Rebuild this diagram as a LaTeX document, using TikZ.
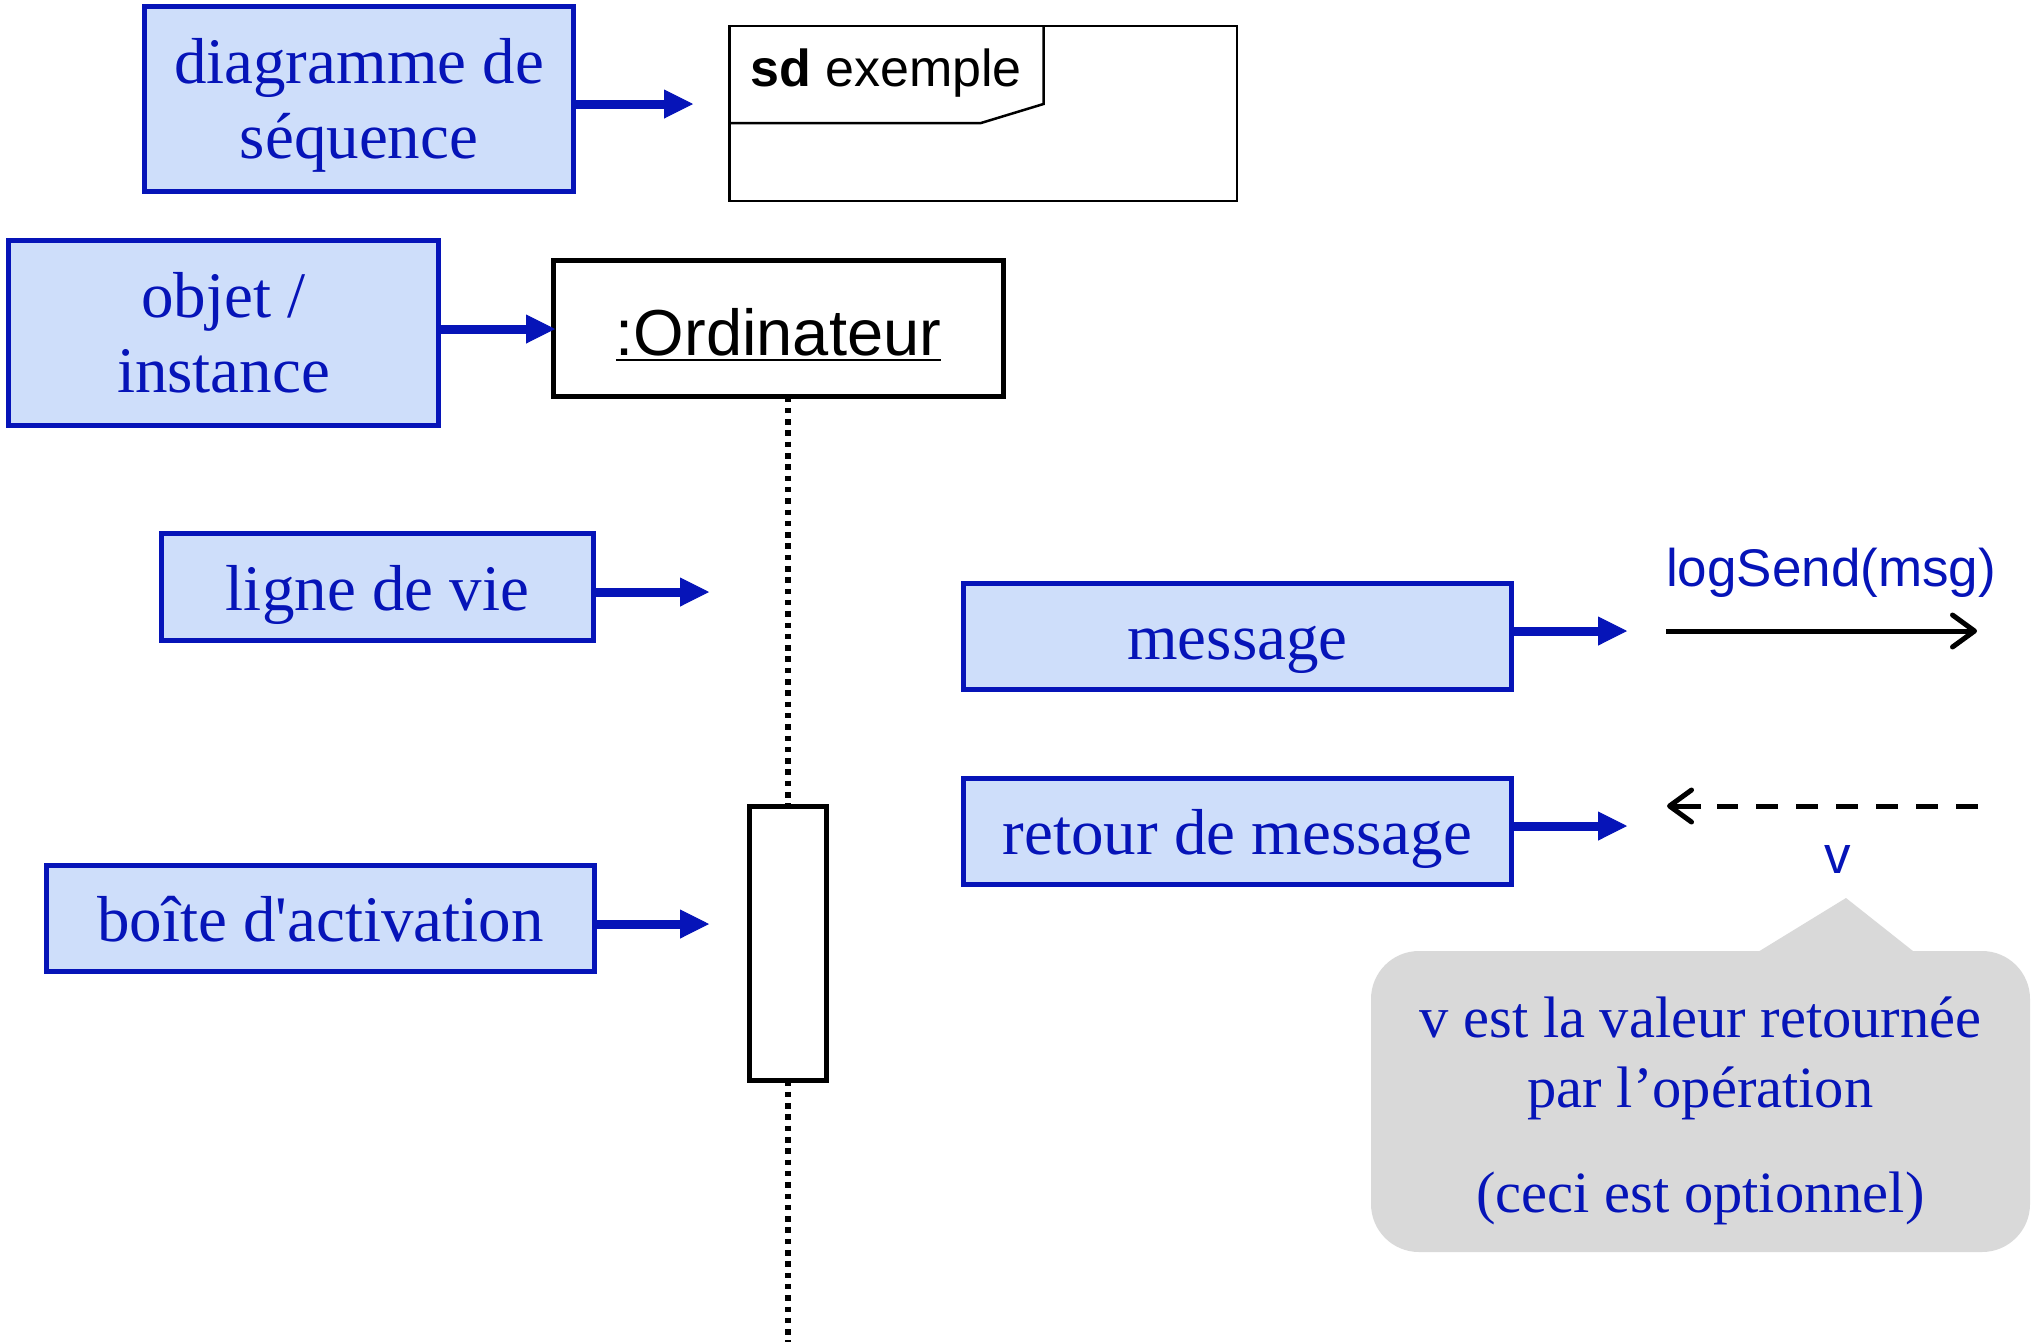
\documentclass[tikz,border=0pt]{standalone}
\usepackage{fontspec}
\newfontfamily\serfont{Liberation Serif}
\newfontfamily\arialf{Liberation Sans}
\usetikzlibrary{arrows.meta}
\definecolor{ublue}{RGB}{6,20,184}
\definecolor{ufill}{RGB}{206,222,250}
\definecolor{ugray}{RGB}{217,217,217}
\newcommand\ulx[1]{\setbox0=\hbox{#1}\rlap{\rule[-6.3pt]{\wd0}{2.6pt}}\box0}
\newcommand\twolines[2]{\raisebox{0pt}[0pt][32pt]{\begin{tabular}[t]{@{}c@{}}#1\\#2\end{tabular}}}
\newcommand\oneline[1]{\raisebox{0pt}[46pt][0pt]{#1}}
\tikzset{
  bluebox/.style={draw=ublue, fill=ufill, line width=5pt, text=ublue, inner sep=0pt, outer sep=0pt,
    font=\serfont\fontsize{65}{75}\selectfont},
  bluearrow/.style={draw=ublue, fill=ublue, line width=9pt, -{Triangle[length=29pt,width=29pt,line width=1pt]}},
  blackbox/.style={draw=black, fill=white, inner sep=0pt, outer sep=0pt},
  lifeline/.style={draw=black, line width=5.5pt, dash pattern=on 5.5pt off 5.8pt},
  msgarrow/.style={draw=black, line width=5pt, -{Straight Barb[length=22pt,width=32pt,round]}},
  bluelabel/.style={inner sep=0pt, outer sep=0pt, text=ublue, font=\arialf\fontsize{53}{60}\selectfont}
}
\begin{document}
\begin{tikzpicture}[x=1pt,y=-1pt]
\fill[white] (0,0) rectangle (2040,1342);
\useasboundingbox (0,0) rectangle (2040,1342);

% sequence diagram frame
\node[blackbox, line width=2.5pt, minimum width=507.5pt, minimum height=175pt] (frame) at (983,113.5) {};
\draw[line width=2.5pt, line join=miter] (729.25,123) -- (981,123) -- (1043.5,104) -- (1043.5,26);
\node[anchor=base west, inner sep=0pt, font=\arialf\fontsize{52}{60}\selectfont] (sdlab) at (750,86) {\textbf{sd} exemple};

% object
\node[blackbox, line width=5pt, minimum width=450pt, minimum height=136pt,
      font=\arialf\fontsize{65}{78}\selectfont] (ord) at (778.5,328.5)
      {\raisebox{0pt}[53pt][0pt]{\ulx{:Ordinateur}}};

% activation box and lifeline
\node[blackbox, line width=5pt, minimum width=77pt, minimum height=274pt] (act) at (788,943.5) {};
\coordinate (lifeEnd) at (788,1342);
\draw[lifeline] (ord.south -| act.north) -- (act.north);
\draw[lifeline] (act.south) -- (lifeEnd);

% blue explanation boxes
\node[bluebox, minimum width=429pt, minimum height=185pt] (diag) at (359,99) {\twolines{diagramme de}{séquence}};
\node[bluebox, minimum width=430pt, minimum height=185pt] (obj) at (223.5,333) {\twolines{objet /}{instance}};
\node[bluebox, minimum width=432pt, minimum height=107pt] (ligne) at (377.5,587) {\oneline{ligne de vie}};
\node[bluebox, minimum width=548pt, minimum height=106pt] (boite) at (320.5,918.5) {\oneline{boîte d'activation}};
\node[bluebox, minimum width=548pt, minimum height=106pt] (msg) at (1237.5,636.5) {\oneline{message}};
\node[bluebox, minimum width=548pt, minimum height=106pt] (ret) at (1237.5,831.5) {\oneline{retour de message}};

% blue arrows
\coordinate (t1) at (693,104);
\coordinate (t2) at (555,329);
\coordinate (t3) at (709,592);
\coordinate (t4) at (709,924);
\coordinate (t5) at (1627,631);
\coordinate (t6) at (1627,826);
\draw[bluearrow] (diag.east |- t1) -- (t1);
\draw[bluearrow] (obj.east |- t2) -- (t2);
\draw[bluearrow] (ligne.east |- t3) -- (t3);
\draw[bluearrow] (boite.east |- t4) -- (t4);
\draw[bluearrow] (msg.east |- t5) -- (t5);
\draw[bluearrow] (ret.east |- t6) -- (t6);

% message arrow
\node[bluelabel, anchor=base] (loglab) at (1831,586) {logSend(msg)};
\coordinate (m1) at (1666,631);
\coordinate (m2) at (1977,631);
\draw[msgarrow] (m1) -- (m2);

% return arrow
\coordinate (r1) at (1978,806);
\coordinate (r2) at (1717,806);
\coordinate (r3) at (1701,806);
\coordinate (r4) at (1667,806);
\draw[black, line width=5pt, dash pattern=on 22pt off 18pt] (r1) -- (r2);
\draw[msgarrow] (r3) -- (r4);
\node[bluelabel, anchor=base] (vlab) at (1838,873) {v};

% callout
\fill[ugray] (1753,955) -- (1846,898) -- (1918,955) -- cycle;
\node[fill=ugray, rounded corners=48pt, minimum width=659pt, minimum height=301pt, inner sep=0pt,
      text=ublue, font=\serfont\fontsize{58.5}{70}\selectfont] (note) at (1700.5,1101.5)
  {\raisebox{0pt}[0pt][129pt]{\begin{tabular}[t]{@{}c@{}}v est la valeur retournée\\par l’opération\\[35pt](ceci est optionnel)\end{tabular}}};
\end{tikzpicture}
\end{document}
